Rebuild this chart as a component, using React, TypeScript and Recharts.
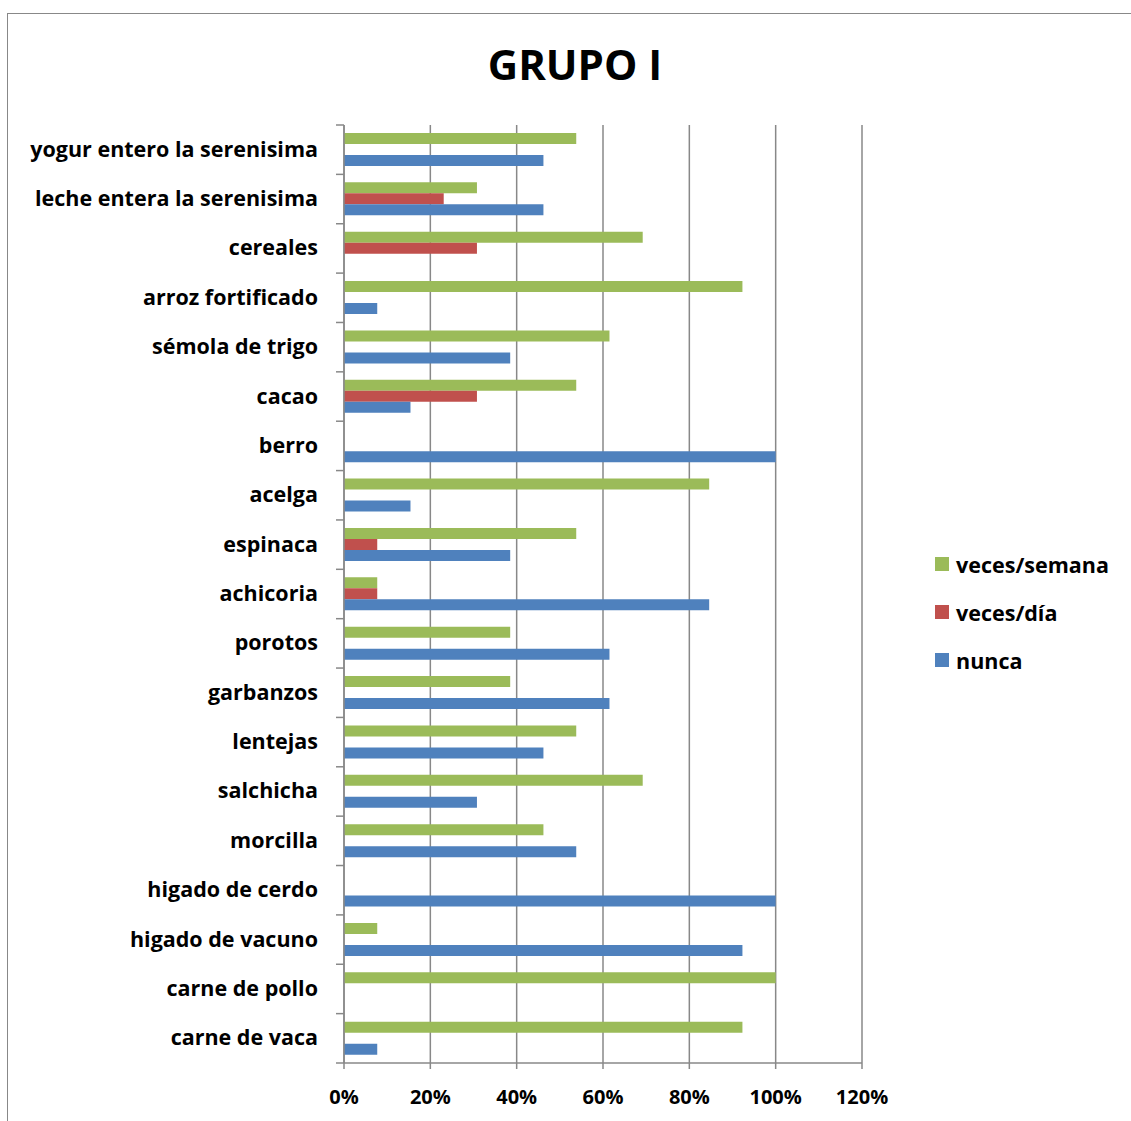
import { BarChart, Bar, XAxis, YAxis, CartesianGrid } from 'recharts';

const categories = [
  'yogur entero la serenisima',
  'leche entera la serenisima',
  'cereales',
  'arroz fortificado',
  'sémola de trigo',
  'cacao',
  'berro',
  'acelga',
  'espinaca',
  'achicoria',
  'porotos',
  'garbanzos',
  'lentejas',
  'salchicha',
  'morcilla',
  'higado de cerdo',
  'higado de vacuno',
  'carne de pollo',
  'carne de vaca',
];

// percentages per food
const vecesSemana = [53.8, 30.8, 69.2, 92.3, 61.5, 53.8, 0, 84.6, 53.8, 7.7, 38.5, 38.5, 53.8, 69.2, 46.2, 0, 7.7, 100, 92.3];
const vecesDia = [0, 23.1, 30.8, 0, 0, 30.8, 0, 0, 7.7, 7.7, 0, 0, 0, 0, 0, 0, 0, 0, 0];
const nunca = [46.2, 46.2, 0, 7.7, 38.5, 15.4, 100, 15.4, 38.5, 84.6, 61.5, 61.5, 46.2, 30.8, 53.8, 100, 92.3, 0, 7.7];

const xTicks = [0, 20, 40, 60, 80, 100, 120];

const series = [
  { key: 'semana', name: 'veces/semana', color: '#9BBB59' },
  { key: 'dia', name: 'veces/día', color: '#C0504D' },
  { key: 'nunca', name: 'nunca', color: '#4F81BD' },
];

const data = categories.map((name, i) => ({
  name,
  semana: vecesSemana[i],
  dia: vecesDia[i],
  nunca: nunca[i],
}));

const FONT = '"Open Sans", sans-serif';
const PLOT_TOP = 125;
const PLOT_BOTTOM = 1063;
const BAND = (PLOT_BOTTOM - PLOT_TOP) / categories.length;

// label + tick mark on the boundary between categories
function CategoryTick({ x, y, payload, index }: any) {
  const last = index === categories.length - 1;
  const ax = x + 8;
  return (
    <g>
      <line x1={ax - 8} x2={ax} y1={y - BAND / 2} y2={y - BAND / 2} stroke="#888" strokeWidth={1.5} />
      {last && <line x1={ax - 8} x2={ax} y1={y + BAND / 2} y2={y + BAND / 2} stroke="#888" strokeWidth={1.5} />}
      <text x={x - 18} y={y - 1.5} textAnchor="end" dominantBaseline="central" fontFamily={FONT} fontWeight={700} fontSize={21.5} fill="#000">
        {payload.value}
      </text>
    </g>
  );
}

function LegendBox() {
  return (
    <div style={{ fontFamily: FONT, fontWeight: 700, fontSize: 21.5 }}>
      {series.map((s) => (
        <div key={s.key} style={{ display: 'flex', alignItems: 'center', height: 48 }}>
          <span style={{ width: 14, height: 14, background: s.color, marginRight: 7 }} />
          <span>{s.name}</span>
        </div>
      ))}
    </div>
  );
}

export default function App() {
  return (
    <div style={{ position: 'absolute', left: 0, top: 0, width: 1131, height: 1121, overflow: 'hidden', background: '#fff' }}>
      <div style={{ position: 'absolute', left: 7, top: 13, width: 1200, height: 1200, border: '1.5px solid #888' }} />
      <div
        style={{
          position: 'absolute',
          left: 0,
          width: 1150,
          top: 34,
          textAlign: 'center',
          fontFamily: FONT,
          fontWeight: 700,
          fontSize: 42,
          lineHeight: '60px',
        }}
      >
        GRUPO I
      </div>
      <div style={{ position: 'absolute', left: 0, top: 0 }}>
        <BarChart
          width={1131}
          height={1121}
          data={data}
          layout="vertical"
          margin={{ top: PLOT_TOP, right: 269, bottom: 18, left: 0 }}
          barSize={11}
          barGap={0}
        >
          <CartesianGrid horizontal={false} stroke="#888" strokeWidth={1.5} />
          <XAxis
            type="number"
            domain={[0, 120]}
            ticks={xTicks}
            tickFormatter={(v) => `${v}%`}
            height={40}
            axisLine={{ stroke: '#888', strokeWidth: 1.5 }}
            tickLine={{ stroke: '#888', strokeWidth: 1.5 }}
            tickSize={6}
            tick={{ fontFamily: FONT, fontWeight: 700, fontSize: 20, fill: '#000', dy: 19 }}
            interval={0}
          />
          <YAxis
            type="category"
            dataKey="name"
            width={344}
            axisLine={{ stroke: '#888', strokeWidth: 1.5 }}
            tickLine={false}
            tick={<CategoryTick />}
            interval={0}
          />
          {series.map((s) => (
            <Bar key={s.key} dataKey={s.key} name={s.name} fill={s.color} isAnimationActive={false} />
          ))}
        </BarChart>
      </div>
      <div style={{ position: 'absolute', left: 935, top: 540 }}>
        <LegendBox />
      </div>
    </div>
  );
}
